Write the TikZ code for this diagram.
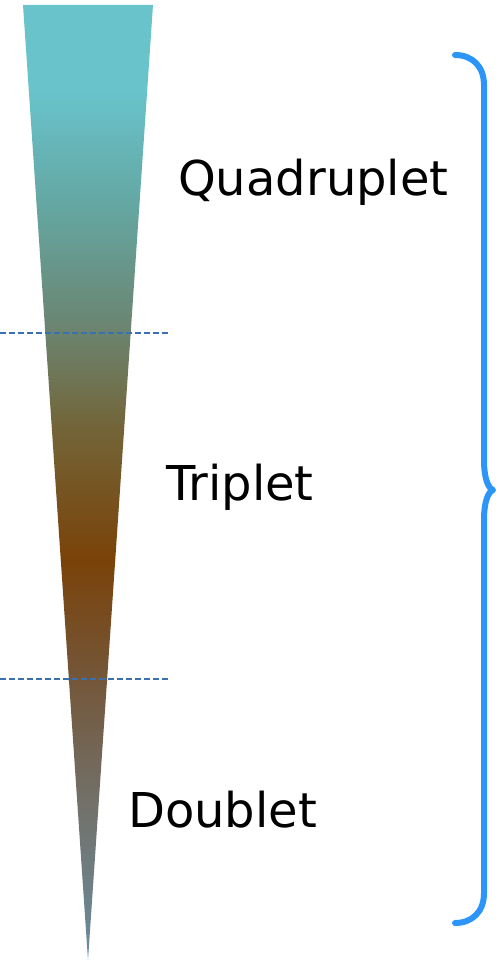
\documentclass[tikz,border=0pt]{standalone}
\usepackage{fontspec}
\setmainfont{DejaVu Sans}
\definecolor{c0}{HTML}{68C3CB}
\definecolor{c1}{HTML}{64A8A4}
\definecolor{c2}{HTML}{6B8470}
\definecolor{c3}{HTML}{736437}
\definecolor{c4}{HTML}{7A4209}
\definecolor{c5}{HTML}{74573A}
\definecolor{c6}{HTML}{727068}
\definecolor{c7}{HTML}{6A8D9E}
\definecolor{bracec}{HTML}{2D95F8}
\definecolor{dashc}{HTML}{3A6FB0}
\tikzset{
  lbl/.style={anchor=base west, inner sep=0pt, font=\fontsize{48}{52}\selectfont, text=black},
  sepline/.style={draw=dashc, line width=1.3pt, dash pattern=on 6pt off 3pt},
  bracestyle/.style={draw=bracec, line width=6pt, line cap=round, line join=round},
}
\begin{document}
\begin{tikzpicture}[x=1pt,y=-1pt]
\useasboundingbox (0,0) rectangle (495,960);
% cone
\begin{scope}
\clip (23,5) -- (153,5) -- (88,960) -- cycle;
\fill[c0] (0,0) rectangle (200,90);
\shade[top color=c0, bottom color=c1] (0,90) rectangle (200,200);
\shade[top color=c1, bottom color=c2] (0,200) rectangle (200,330);
\shade[top color=c2, bottom color=c3] (0,330) rectangle (200,430);
\shade[top color=c3, bottom color=c4] (0,430) rectangle (200,560);
\shade[top color=c4, bottom color=c5] (0,560) rectangle (200,680);
\shade[top color=c5, bottom color=c6] (0,680) rectangle (200,800);
\shade[top color=c6, bottom color=c7] (0,800) rectangle (200,961);
\end{scope}
% dashed separators
\coordinate (d1a) at (0,333);
\coordinate (d1b) at (170,333);
\coordinate (d2a) at (0,679);
\coordinate (d2b) at (170,679);
\draw[sepline] (d1a) -- (d1b);
\draw[sepline] (d2a) -- (d2b);
% labels
\node[lbl] (quad) at (178,195) {Quadruplet};
\node[lbl] (trip) at (166,500) {Triplet};
\node[lbl] (doub) at (128,827) {Doublet};
% brace
\coordinate (bt) at (455,55);
\coordinate (bm) at (493,490);
\coordinate (bb) at (455,923);
\draw[bracestyle] (bt) .. controls (472,55) and (484,66) .. (484,85)
  -- (484,460) .. controls (484,478) and (488,488) .. (bm)
  .. controls (488,492) and (484,502) .. (484,520)
  -- (484,893) .. controls (484,912) and (472,923) .. (bb);
\end{tikzpicture}
\end{document}
